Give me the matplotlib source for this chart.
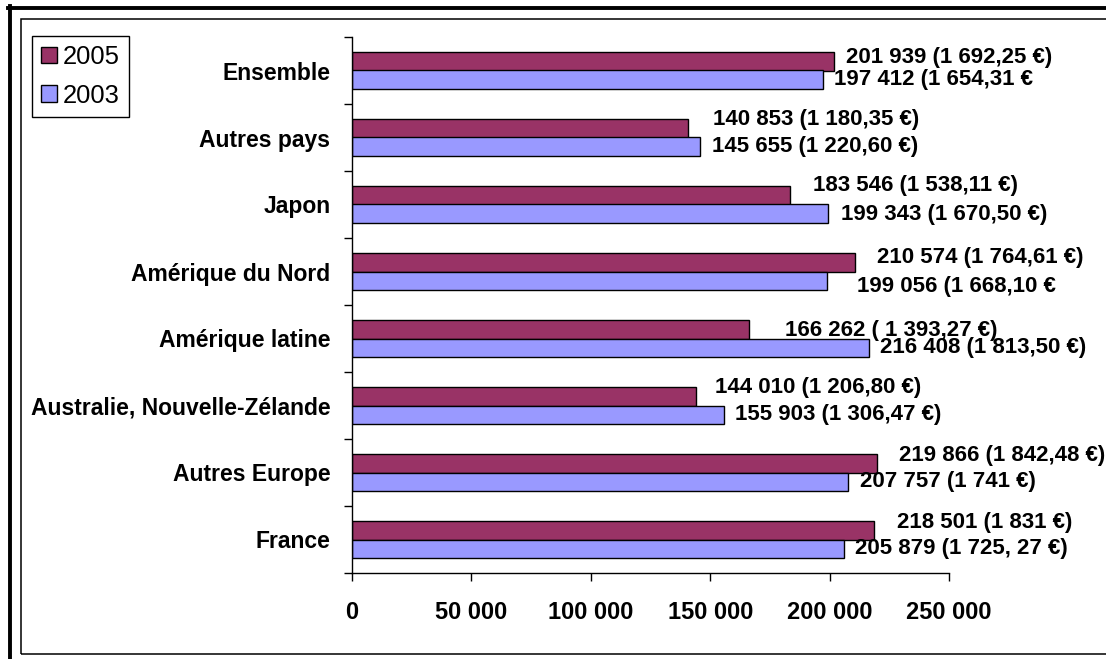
import matplotlib
matplotlib.use('Agg')
import matplotlib.pyplot as plt
from matplotlib.lines import Line2D
from matplotlib.patches import Rectangle
import numpy as np

plt.rcParams['font.family'] = ['Liberation Sans', 'DejaVu Sans']

# régions, de bas en haut
regions = ['France', 'Autres Europe', 'Australie, Nouvelle-Zélande', 'Amérique latine',
           'Amérique du Nord', 'Japon', 'Autres pays', 'Ensemble']
val_2005 = [218501, 219866, 144010, 166262, 210574, 183546, 140853, 201939]
val_2003 = [205879, 207757, 155903, 216408, 199056, 199343, 145655, 197412]
lab_2005 = ['218 501 (1 831 €)', '219 866 (1 842,48 €)', '144 010 (1 206,80 €)',
            '166 262 ( 1 393,27 €)', '210 574 (1 764,61 €)', '183 546 (1 538,11 €)',
            '140 853 (1 180,35 €)', '201 939 (1 692,25 €)']
lab_2003 = ['205 879 (1 725, 27 €)', '207 757 (1 741 €)', '155 903 (1 306,47 €)',
            '216 408 (1 813,50 €)', '199 056 (1 668,10 €', '199 343 (1 670,50 €)',
            '145 655 (1 220,60 €)', '197 412 (1 654,31 €']
xticks = [0, 50000, 100000, 150000, 200000, 250000]
xtick_labels = ['0', '50 000', '100 000', '150 000', '200 000', '250 000']

# décalage des étiquettes (pixels) par rapport au bout de la barre
off_2005 = [(23, 8), (22, 8), (19, 9), (36, -1), (22, 5), (23, 10), (25, 9), (12, 4)]
off_2003 = [(11, 0), (12, 0), (11, 0), (11, 0), (30, -6), (13, -1), (12, 0), (11, 0)]

c2005 = '#993366'
c2003 = '#9999FF'

W, H = 1106, 659
fig = plt.figure(figsize=(W / 100, H / 100), dpi=100)

# cadres
fig.add_artist(Line2D([8 / W, 1], [1 - 7.5 / H, 1 - 7.5 / H], color='black', lw=2.8))
fig.add_artist(Line2D([9.8 / W, 9.8 / W], [0, 1 - 6 / H], color='black', lw=2.8))
fig.add_artist(Rectangle((20.5 / W, 1 - 654 / H), 1.1, (654 - 19) / H, fill=False,
                         edgecolor='black', lw=1.1, transform=fig.transFigure))

ax = fig.add_axes([352 / W, 1 - 573 / H, (949 - 352) / W, (573 - 37) / H])
y = np.arange(len(regions))
b05 = ax.barh(y + 0.14, val_2005, height=0.28, color=c2005, edgecolor='black', lw=1)
b03 = ax.barh(y - 0.14, val_2003, height=0.28, color=c2003, edgecolor='black', lw=1)

for i in range(len(regions)):
    ax.annotate(lab_2005[i], (val_2005[i], y[i] + 0.14), xytext=off_2005[i],
                textcoords='offset pixels', ha='left', va='center',
                fontsize=16, fontweight='bold', annotation_clip=False)
    ax.annotate(lab_2003[i], (val_2003[i], y[i] - 0.14), xytext=off_2003[i],
                textcoords='offset pixels', ha='left', va='center',
                fontsize=16, fontweight='bold', annotation_clip=False)

ax.set_xlim(0, 250000)
ax.set_ylim(-0.5, len(regions) - 0.5)
ax.set_xticks(xticks)
ax.set_xticklabels(xtick_labels, fontsize=17, fontweight='bold')
ax.set_yticks(y)
ax.set_yticklabels(regions, fontsize=16.5, fontweight='bold')
ax.set_yticks(np.arange(len(regions) + 1) - 0.5, minor=True)
ax.tick_params(axis='y', which='major', length=0, pad=15.5)
ax.tick_params(axis='y', which='minor', length=6, width=1, direction='out')
ax.tick_params(axis='x', which='major', length=6, width=1, direction='out', pad=14)
for s in ['top', 'right']:
    ax.spines[s].set_visible(False)
for s in ['left', 'bottom']:
    ax.spines[s].set_linewidth(1)

handles = [Rectangle((0, 0), 1, 1, facecolor=c2005, edgecolor='black', lw=1),
           Rectangle((0, 0), 1, 1, facecolor=c2003, edgecolor='black', lw=1)]
leg = fig.legend(handles, ['2005', '2003'], loc='upper left',
                 bbox_to_anchor=(32 / W, 1 - 36 / H), borderaxespad=0,
                 fontsize=18.4, handlelength=0.62, handleheight=0.62, handletextpad=0.25,
                 labelspacing=0.58, borderpad=0.35, fancybox=False, framealpha=1,
                 edgecolor='black')
leg.get_frame().set_linewidth(1)

fig.savefig('out.png', dpi=100)
